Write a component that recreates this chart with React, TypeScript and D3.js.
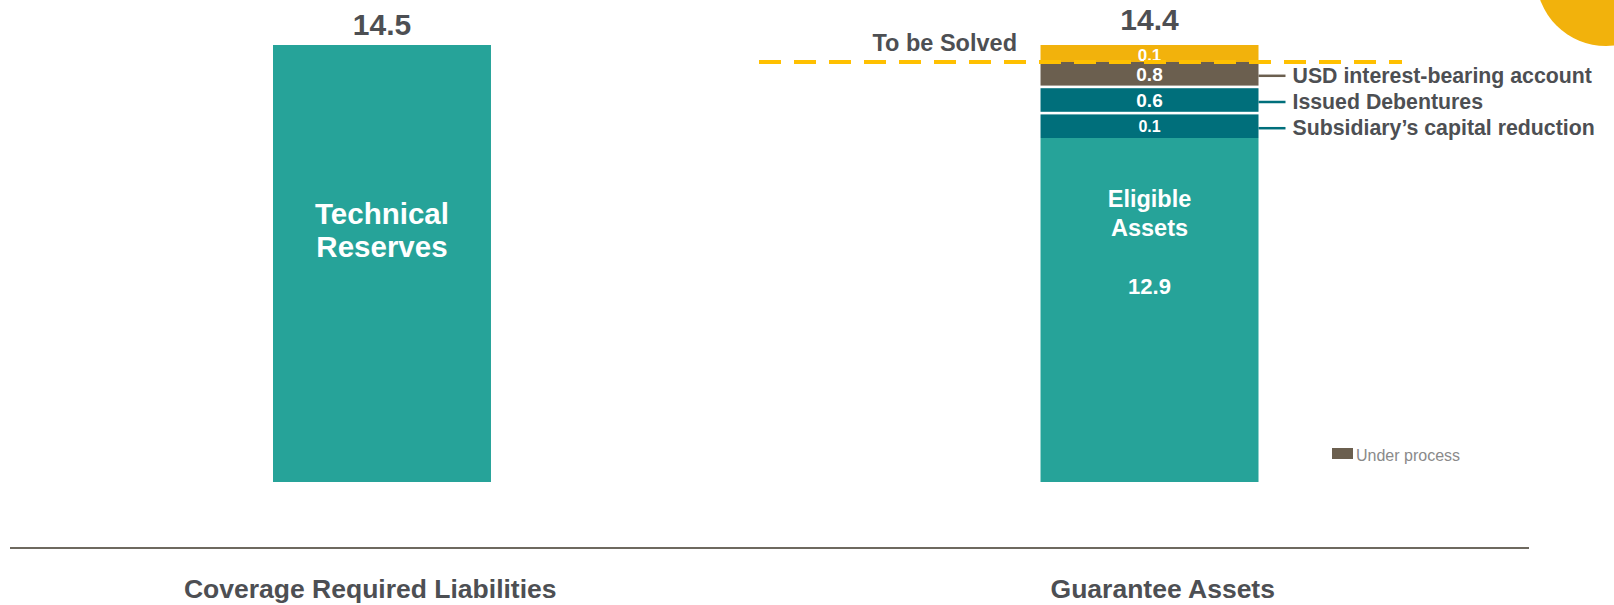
import React from "react";
import * as d3 from "d3";

const categories = ["Coverage Required Liabilities", "Guarantee Assets"];
const requiredTotal = 14.5;
const assetsTotal = 14.4;
const liabilityLines = ["Technical", "Reserves"];
const eligibleLines = ["Eligible", "Assets"];
const eligibleValue = 12.9;
const componentNames = [
  "Subsidiary’s capital reduction",
  "Issued Debentures",
  "USD interest-bearing account",
];
const componentValues = [0.1, 0.6, 0.8];
const gapLabel = "To be Solved";
const gapValue = 0.1;
const legendLabels = ["Under process"];

const W = 1614;
const H = 605;
const TEAL = "#26A399";
const DARK_TEAL = "#006F7B";
const BROWN = "#6B5F4F";
const YELLOW = "#F2B20C";
const DASH = "#FFC000";
const TEXT = "#4D4F53";
const FONT = "'Liberation Sans', Arial, sans-serif";
const componentColors = [DARK_TEAL, DARK_TEAL, BROWN];
const componentFont = [16, 19, 19];

export default function App() {
  const x = d3
    .scaleBand<string>()
    .domain(categories)
    .range([273, 1258.5])
    .paddingInner(0.716)
    .paddingOuter(0);
  const bw = x.bandwidth();

  // axis labels sit on a slightly wider band layout
  const xAxis = d3.scaleBand<string>().domain(categories).range([-26, 1559]);

  // piecewise scale: the original graphic is not drawn to a strict linear scale
  const y = d3
    .scaleLinear()
    .domain([0, eligibleValue, assetsTotal, requiredTotal])
    .range([482, 138, 62, 45]);

  const seg = d3
    .scaleBand<string>()
    .domain(componentNames)
    .range([y(eligibleValue), y(assetsTotal)])
    .paddingInner(0.1)
    .paddingOuter(0);

  const x0 = x(categories[0])!;
  const x1 = x(categories[1])!;
  const c0 = x0 + bw / 2;
  const c1 = x1 + bw / 2;
  const right1 = x1 + bw;
  const dashY = y(assetsTotal);

  return (
    <svg
      width={W}
      height={H}
      style={{ position: "absolute", left: 0, top: 0, background: "#fff" }}
      fontFamily={FONT}
    >
      {/* decorative yellow circle top right */}
      <circle cx={1606} cy={-24} r={70} fill={YELLOW} />

      {/* Bar 1 */}
      <rect x={x0} y={y(requiredTotal)} width={bw} height={y(0) - y(requiredTotal)} fill={TEAL} />
      <text x={c0} y={35} textAnchor="middle" fontSize={30} fontWeight="bold" fill={TEXT}>
        {requiredTotal.toFixed(1)}
      </text>
      {liabilityLines.map((t, i) => (
        <text key={t} x={c0} y={224 + i * 33} textAnchor="middle" fontSize={29.5} fontWeight="bold" fill="#fff">
          {t}
        </text>
      ))}

      {/* Bar 2: to be solved gap on top */}
      <rect
        x={x1}
        y={y(assetsTotal + gapValue)}
        width={bw}
        height={y(assetsTotal) - y(assetsTotal + gapValue)}
        fill={YELLOW}
      />
      <text x={c1} y={y(assetsTotal) - 1} textAnchor="middle" fontSize={17} fontWeight="bold" fill="#fff">
        {gapValue.toFixed(1)}
      </text>

      {/* Bar 2 eligible */}
      <rect x={x1} y={y(eligibleValue)} width={bw} height={y(0) - y(eligibleValue)} fill={TEAL} />
      {eligibleLines.map((t, i) => (
        <text key={t} x={c1} y={207 + i * 29} textAnchor="middle" fontSize={23.5} fontWeight="bold" fill="#fff">
          {t}
        </text>
      ))}
      <text x={c1} y={294} textAnchor="middle" fontSize={22} fontWeight="bold" fill="#fff">
        {eligibleValue.toFixed(1)}
      </text>

      {/* breakdown segments */}
      {componentNames.map((n, i) => {
        const top = seg(n)!;
        const h = seg.bandwidth();
        const mid = top + h / 2;
        return (
          <g key={n}>
            <rect x={x1} y={top} width={bw} height={h} fill={componentColors[i]} />
            <text
              x={c1}
              y={mid + componentFont[i] * 0.36}
              textAnchor="middle"
              fontSize={componentFont[i]}
              fontWeight="bold"
              fill="#fff"
            >
              {componentValues[i].toFixed(1)}
            </text>
            <line x1={right1} x2={right1 + 27} y1={mid + 2} y2={mid + 2} stroke={componentColors[i]} strokeWidth={2.5} />
            <text x={right1 + 34} y={mid + 9} fontSize={21.3} fontWeight="bold" fill={TEXT}>
              {n}
            </text>
          </g>
        );
      })}

      <text x={c1} y={30} textAnchor="middle" fontSize={30} fontWeight="bold" fill={TEXT}>
        {assetsTotal.toFixed(1)}
      </text>

      {/* dashed threshold line */}
      <line x1={759} x2={1402} y1={dashY} y2={dashY} stroke={DASH} strokeWidth={4} strokeDasharray="22 13" />
      <text x={1017} y={51} textAnchor="end" fontSize={23.5} fontWeight="bold" fill={TEXT}>
        {gapLabel}
      </text>

      {/* legend */}
      <rect x={1332} y={448} width={21} height={11} fill={BROWN} />
      <text x={1356} y={461} fontSize={16} fill="#8A8A8A">
        {legendLabels[0]}
      </text>

      {/* axis line */}
      <line x1={10} x2={1529} y1={548} y2={548} stroke="#6E695F" strokeWidth={2} />
      {categories.map((c) => (
        <text
          key={c}
          x={xAxis(c)! + xAxis.bandwidth() / 2}
          y={598}
          textAnchor="middle"
          fontSize={26.5}
          fontWeight="bold"
          fill={TEXT}
        >
          {c}
        </text>
      ))}
    </svg>
  );
}
